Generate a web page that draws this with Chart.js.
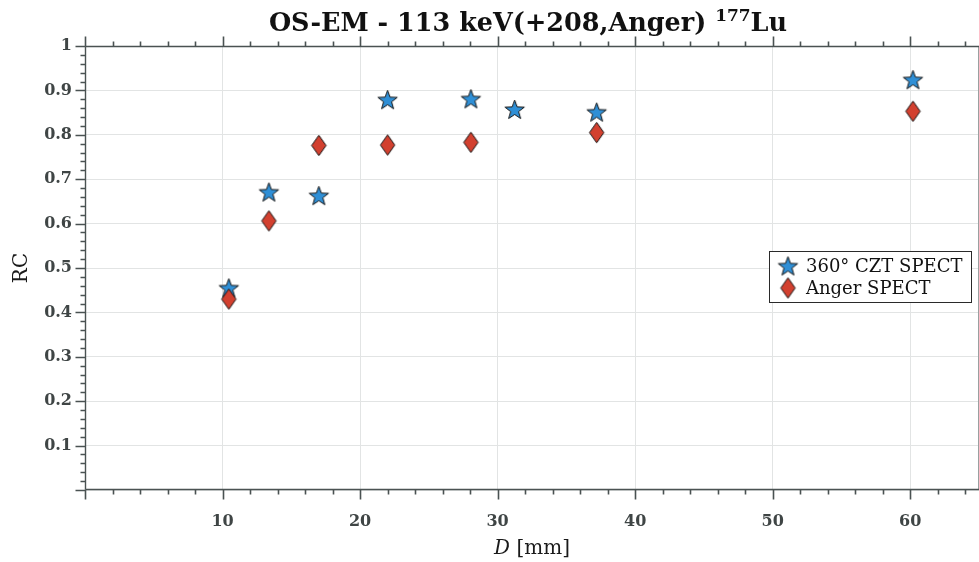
<!DOCTYPE html>
<html>
<head>
<meta charset="utf-8">
<script src="https://cdn.jsdelivr.net/npm/chart.js@4/dist/chart.umd.min.js"></script>
<style>
  html, body { margin: 0; padding: 0; background: #ffffff; }
  #wrap { width: 979px; height: 562px; position: relative; }
</style>
</head>
<body>
<div id="wrap"><canvas id="c" width="979" height="562"></canvas></div>
<script>
// Sphere diameters (mm) and recovery coefficients per system
const diametersCZT = [10.46, 13.37, 17.0, 22.0, 28.06, 31.24, 37.2, 60.2];
const rcCZT        = [0.455, 0.671, 0.663, 0.879, 0.881, 0.857, 0.851, 0.924];
const diametersAnger = [10.46, 13.37, 17.0, 22.0, 28.06, 37.2, 60.2];
const rcAnger        = [0.430, 0.606, 0.776, 0.777, 0.783, 0.805, 0.853];

const seriesNames = ['360\u00B0 CZT SPECT', 'Anger SPECT'];
const xTickValues = [0, 10, 20, 30, 40, 50, 60];
const yTickValues = [0, 0.1, 0.2, 0.3, 0.4, 0.5, 0.6, 0.7, 0.8, 0.9, 1];
const titleParts = ['OS-EM - 113 keV(+208,Anger) ', '177', 'Lu'];
const yAxisTitle = 'RC';
const xAxisTitleVar = 'D';
const xAxisTitleUnit = ' [mm]';

const SERIF = '"DejaVu Serif", "Liberation Serif", serif';
const AXIS_COLOR = '#4a5252';
const LABEL_COLOR = '#3f4545';

// Filled five-pointed star marker
function makeStar(outerR, innerR, fill, stroke) {
  const size = Math.ceil(outerR * 2 + 4);
  const cv = document.createElement('canvas');
  cv.width = size; cv.height = size;
  const g = cv.getContext('2d');
  const cx = size / 2, cy = size / 2 + 0.8;
  g.beginPath();
  for (let i = 0; i < 10; i++) {
    const r = i % 2 === 0 ? outerR : innerR;
    const a = -Math.PI / 2 + i * Math.PI / 5;
    const px = cx + r * Math.cos(a), py = cy + r * Math.sin(a);
    if (i === 0) g.moveTo(px, py); else g.lineTo(px, py);
  }
  g.closePath();
  g.fillStyle = fill; g.fill();
  g.lineWidth = 1; g.strokeStyle = stroke; g.lineJoin = 'miter'; g.stroke();
  return cv;
}

// Tall diamond marker
function makeDiamond(halfW, halfH, fill, stroke) {
  const w = Math.ceil(halfW * 2 + 4), h = Math.ceil(halfH * 2 + 4);
  const cv = document.createElement('canvas');
  cv.width = w; cv.height = h;
  const g = cv.getContext('2d');
  const cx = w / 2, cy = h / 2;
  g.beginPath();
  g.moveTo(cx, cy - halfH);
  g.lineTo(cx + halfW, cy);
  g.lineTo(cx, cy + halfH);
  g.lineTo(cx - halfW, cy);
  g.closePath();
  g.fillStyle = fill; g.fill();
  g.lineWidth = 1; g.strokeStyle = stroke; g.lineJoin = 'miter'; g.stroke();
  return cv;
}

const starImg = makeStar(10.2, 4.2, '#2f8fd6', '#151515');
const diamondImg = makeDiamond(7.2, 10.2, '#d2402f', '#151515');

// Frame: axis lines, outward major/minor ticks, title, axis titles, legend
const framePlugin = {
  id: 'frame',
  afterDraw(chart) {
    const ctx = chart.ctx;
    const xs = chart.scales.x, ys = chart.scales.y;
    const a = chart.chartArea;
    const L = Math.round(a.left) + 0.5, R = a.right - 0.5;
    const T = Math.round(a.top) + 0.5, B = Math.round(a.bottom) - 0.5;
    ctx.save();

    // right border (light)
    ctx.strokeStyle = '#9aa0a0';
    ctx.lineWidth = 1;
    ctx.beginPath(); ctx.moveTo(R, T); ctx.lineTo(R, B); ctx.stroke();

    ctx.strokeStyle = AXIS_COLOR;
    ctx.lineWidth = 1.4;
    ctx.beginPath();
    ctx.moveTo(L, T); ctx.lineTo(a.right, T);
    ctx.moveTo(L, T); ctx.lineTo(L, B);
    ctx.moveTo(L, B); ctx.lineTo(a.right, B);
    ctx.stroke();

    ctx.lineWidth = 1.6;
    ctx.beginPath();
    // x ticks, every 2 mm, major every 10
    for (let v = 0; v <= xs.max + 1e-9; v += 2) {
      const px = Math.round(xs.getPixelForValue(v)) + 0.5;
      const len = (v % 10 === 0) ? 10 : 5;
      ctx.moveTo(px, B); ctx.lineTo(px, B + len);
      ctx.moveTo(px, T); ctx.lineTo(px, T - len);
    }
    // y ticks, every 0.02, major every 0.1
    for (let i = 0; i <= 50; i++) {
      const v = i * 0.02;
      const py = Math.round(ys.getPixelForValue(v)) + 0.5;
      const len = (i % 5 === 0) ? 10 : 5;
      ctx.moveTo(L, py); ctx.lineTo(L - len, py);
    }
    ctx.stroke();

    // title with superscript mass number
    ctx.fillStyle = '#111111';
    ctx.textBaseline = 'alphabetic';
    ctx.textAlign = 'left';
    const fMain = 'bold 25.5px ' + SERIF, fSup = 'bold 17px ' + SERIF;
    ctx.font = fMain; const w0 = ctx.measureText(titleParts[0]).width;
    ctx.font = fSup;  const w1 = ctx.measureText(titleParts[1]).width;
    ctx.font = fMain; const w2 = ctx.measureText(titleParts[2]).width;
    let tx = 528 - (w0 + w1 + w2) / 2;
    const ty = 31;
    ctx.font = fMain; ctx.fillText(titleParts[0], tx, ty); tx += w0;
    ctx.font = fSup;  ctx.fillText(titleParts[1], tx, ty - 10); tx += w1;
    ctx.font = fMain; ctx.fillText(titleParts[2], tx, ty);

    // y axis title
    ctx.save();
    ctx.translate(22, (a.top + a.bottom) / 2);
    ctx.rotate(-Math.PI / 2);
    ctx.font = '20px ' + SERIF;
    ctx.textAlign = 'center';
    ctx.textBaseline = 'middle';
    ctx.fillStyle = '#1a1a1a';
    ctx.fillText(yAxisTitle, 0, 0);
    ctx.restore();

    // x axis title: italic variable + unit
    ctx.fillStyle = '#1a1a1a';
    ctx.textBaseline = 'alphabetic';
    const fI = 'italic 20px ' + SERIF, fN = '20px ' + SERIF;
    ctx.font = fI; const wv = ctx.measureText(xAxisTitleVar).width;
    ctx.font = fN; const wu = ctx.measureText(xAxisTitleUnit).width;
    let ax = (a.left + a.right) / 2 - (wv + wu) / 2;
    ctx.font = fI; ctx.fillText(xAxisTitleVar, ax, 554); ax += wv;
    ctx.font = fN; ctx.fillText(xAxisTitleUnit, ax, 554);

    // legend box
    const bx = 769.5, by = 251.5, bw = 202, bh = 51;
    ctx.fillStyle = '#ffffff';
    ctx.fillRect(bx, by, bw, bh);
    ctx.strokeStyle = '#2a2a2a';
    ctx.lineWidth = 1;
    ctx.strokeRect(bx, by, bw, bh);
    const rows = [[starImg, 266], [diamondImg, 288]];
    ctx.font = '18px ' + SERIF;
    ctx.fillStyle = '#111111';
    ctx.textBaseline = 'middle';
    ctx.textAlign = 'left';
    rows.forEach(([img, cy], i) => {
      ctx.drawImage(img, 788 - img.width / 2, cy - img.height / 2);
      ctx.fillText(seriesNames[i], 806, cy + 1);
    });

    ctx.restore();
  }
};

const fmt = v => (Math.abs(v) < 1e-9 ? '' : String(Math.round(v * 10) / 10));

new Chart(document.getElementById('c'), {
  type: 'scatter',
  data: {
    datasets: [
      {
        label: seriesNames[0],
        data: diametersCZT.map((d, i) => ({ x: d, y: rcCZT[i] })),
        pointStyle: starImg,
        pointRadius: 10,
        pointHoverRadius: 10,
        order: 2
      },
      {
        label: seriesNames[1],
        data: diametersAnger.map((d, i) => ({ x: d, y: rcAnger[i] })),
        pointStyle: diamondImg,
        pointRadius: 10,
        pointHoverRadius: 10,
        order: 1
      }
    ]
  },
  options: {
    responsive: false,
    animation: false,
    devicePixelRatio: 1,
    layout: { autoPadding: false, padding: { top: 46, right: 0, bottom: 0, left: 0 } },
    plugins: {
      legend: { display: false },
      title: { display: false },
      tooltip: { enabled: false }
    },
    scales: {
      x: {
        type: 'linear',
        min: 0, max: 65,
        afterBuildTicks: s => { s.ticks = xTickValues.map(v => ({ value: v })); },
        afterFit: s => { s.height = 72; },
        grid: { color: '#e2e4e4', lineWidth: 1, drawTicks: false },
        border: { display: false },
        ticks: {
          padding: 22,
          color: LABEL_COLOR,
          font: { family: SERIF, size: 16, weight: 'bold' },
          maxRotation: 0,
          callback: v => fmt(v)
        }
      },
      y: {
        type: 'linear',
        min: 0, max: 1,
        afterBuildTicks: s => { s.ticks = yTickValues.map(v => ({ value: v })); },
        afterFit: s => { s.width = 85; },
        grid: { color: '#e2e4e4', lineWidth: 1, drawTicks: false },
        border: { display: false },
        ticks: {
          padding: 13,
          color: LABEL_COLOR,
          font: { family: SERIF, size: 16, weight: 'bold' },
          callback: v => fmt(v)
        }
      }
    }
  },
  plugins: [framePlugin]
});
</script>
</body>
</html>
